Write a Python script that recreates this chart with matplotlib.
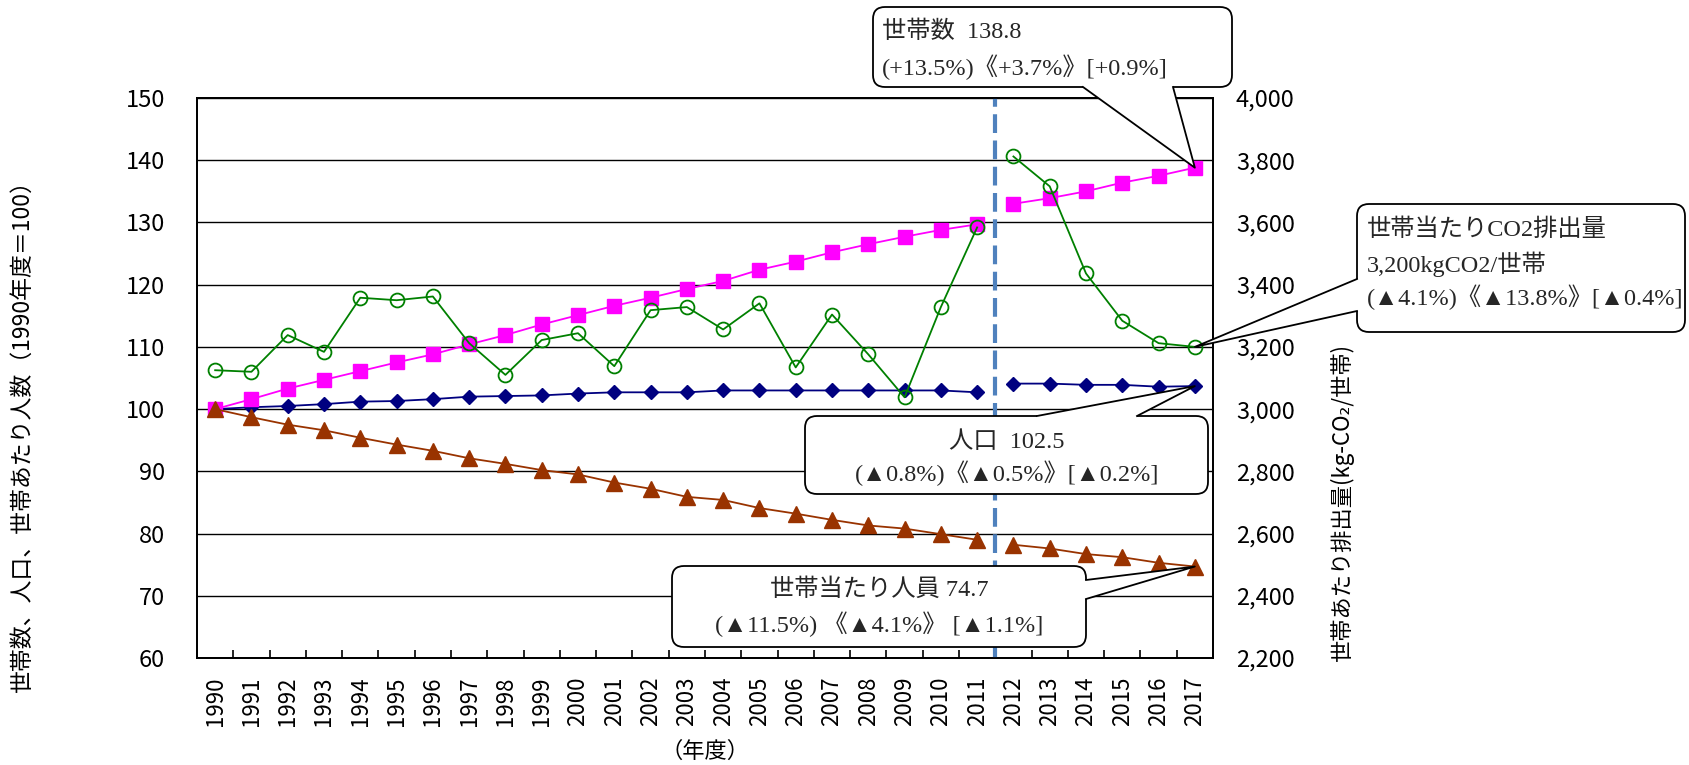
import matplotlib
matplotlib.use('Agg')
import matplotlib.pyplot as plt
from matplotlib.patches import FancyBboxPatch, Polygon
import numpy as np

# データ (1990年度=100)
years = [str(y) for y in range(1990, 2018)]
households = [100.0, 101.6, 103.3, 104.7, 106.1, 107.5, 108.8, 110.4, 111.9, 113.6,
              115.1, 116.6, 117.9, 119.3, 120.6, 122.4, 123.7, 125.2, 126.5, 127.7,
              128.8, 129.7, 133.0, 133.9, 135.0, 136.4, 137.5, 138.8]
population = [100.0, 100.3, 100.5, 100.8, 101.2, 101.3, 101.6, 102.0, 102.1, 102.2,
              102.5, 102.7, 102.7, 102.7, 103.0, 103.0, 103.0, 103.0, 103.0, 103.0,
              103.0, 102.7, 104.1, 104.1, 103.9, 103.9, 103.6, 103.7]
members = [100.0, 98.7, 97.5, 96.6, 95.4, 94.3, 93.3, 92.1, 91.2, 90.2,
           89.5, 88.2, 87.2, 85.9, 85.4, 84.1, 83.2, 82.2, 81.3, 80.8,
           79.9, 79.0, 78.2, 77.6, 76.7, 76.2, 75.3, 74.7]
# 世帯あたり排出量 (kg-CO2/世帯)
co2_per_household = [3125, 3120, 3238, 3184, 3358, 3350, 3362, 3212, 3110, 3222,
                     3244, 3138, 3318, 3328, 3256, 3340, 3134, 3304, 3176, 3038,
                     3328, 3584, 3812, 3716, 3436, 3284, 3212, 3200]

left_ticks = list(range(60, 151, 10))
right_ticks = list(range(2200, 4001, 200))

# 2011年度と2012年度の間で系列を切る
split = 22

plt.rcParams['font.family'] = ['Noto Sans CJK JP', 'DejaVu Sans']
SERIF = ['Liberation Serif', 'DejaVu Sans', 'Noto Sans CJK JP']
W, H = 1690, 765

fig = plt.figure(figsize=(W / 100, H / 100), dpi=100)
ax = fig.add_axes([197 / W, 1 - 658 / H, (1213 - 197) / W, (658 - 98) / H])
ax2 = ax.twinx()

x = np.arange(len(years))


def plot_split(a, values, **kw):
    v = np.array(values, dtype=float)
    a.plot(x[:split], v[:split], **kw)
    a.plot(x[split:], v[split:], **kw)


plot_split(ax, population, color='#000080', marker='D', ms=7, lw=1.3, zorder=2)
plot_split(ax, households, color='#FF00FF', marker='s', ms=10.5, lw=1.3, zorder=3)
plot_split(ax, members, color='#993300', marker='^', ms=11, lw=1.3, zorder=4)
plot_split(ax2, co2_per_household, color='#008000', marker='o', ms=10, mfc='none',
           mew=1.3, lw=1.3, zorder=3)

# 区切りの破線
ax2.axvline(split - 0.5, color='#4F81BD', lw=3, ls=(0, (4.5, 1.8)), zorder=1)

# 軸
ax.set_xlim(-0.5, len(years) - 0.5)
ax.set_ylim(60, 150)
ax.set_yticks(left_ticks)
ax2.set_ylim(2200, 4000)
ax2.set_yticks(right_ticks)
ax2.set_yticklabels(['{:,}'.format(v) for v in right_ticks])

ax.set_xticks(x)
ax.set_xticklabels(years, rotation=90, fontsize=16)
ax.set_xticks(np.arange(-0.5, len(years), 1.0), minor=True)
ax.tick_params(axis='x', which='major', length=0, pad=13.5)
ax.tick_params(axis='x', which='minor', direction='in', length=5.5, width=1.2)
ax.tick_params(axis='y', length=0, pad=23, labelsize=17)
ax2.tick_params(axis='y', length=0, pad=16.5, labelsize=17)

ax.yaxis.grid(True, color='black', lw=1.0)
ax.set_axisbelow(True)
for a in (ax, ax2):
    for s in a.spines.values():
        s.set_color('black')
        s.set_linewidth(1.3)

# 軸ラベル
fig.text(22 / W, 1 - 430 / H, '世帯数、人口、世帯あたり人数（1990年度＝100）',
         rotation=90, ha='center', va='center', fontsize=16.5)
fig.text(1342 / W, 1 - 502 / H, '世帯あたり排出量(kg-CO₂/世帯)',
         rotation=90, ha='center', va='center', fontsize=16)
fig.text(705 / W, 1 - 751 / H, '（年度）', ha='center', va='center', fontsize=16)

# 吹き出し用の重ね軸 (ピクセル座標)
ov = fig.add_axes([0, 0, 1, 1], zorder=10)
ov.set_xlim(0, W)
ov.set_ylim(H, 0)
ov.axis('off')


def to_px(a, xv, yv):
    return ov.transData.inverted().transform(a.transData.transform((xv, yv)))


def callout(box, side, b1, b2, tip, lines, ha='left'):
    x0, y0, x1, y1 = box
    ov.add_patch(FancyBboxPatch((x0, y0), x1 - x0, y1 - y0,
                                boxstyle='round,pad=0,rounding_size=12',
                                fc='white', ec='black', lw=1.3, zorder=1))
    if side == 'bottom':
        p1, p2, d = (b1, y1), (b2, y1), (0, -3)
    elif side == 'top':
        p1, p2, d = (b1, y0), (b2, y0), (0, 3)
    elif side == 'left':
        p1, p2, d = (x0, b1), (x0, b2), (3, 0)
    else:
        p1, p2, d = (x1, b1), (x1, b2), (-3, 0)
    pts = [(p1[0] + d[0], p1[1] + d[1]), p1, tuple(tip), p2,
           (p2[0] + d[0], p2[1] + d[1])]
    ov.add_patch(Polygon(pts, closed=True, fc='white', ec='none', zorder=2))
    ov.plot([p1[0], tip[0], p2[0]], [p1[1], tip[1], p2[1]], color='black',
            lw=1.3, zorder=3)
    for tx, ty, s in lines:
        ov.text(tx, ty, s, ha=ha, va='center', fontsize=17.5, family=SERIF,
                color='#262626', zorder=4)


last = len(years) - 1
callout((873, 7, 1232, 87), 'bottom', 1083, 1173,
        to_px(ax, last, households[last]),
        [(882, 32, '世帯数  138.8'),
         (882, 67, '(+13.5%)《+3.7%》[+0.9%]')])
callout((1357, 204, 1685, 332), 'left', 279, 311,
        to_px(ax2, last, co2_per_household[last]),
        [(1367, 230, '世帯当たりCO2排出量'),
         (1367, 264, '3,200kgCO2/世帯'),
         (1367, 297, '(▲4.1%)《▲13.8%》[▲0.4%]')])
callout((805, 416, 1208, 494), 'top', 1037, 1137,
        to_px(ax, last, population[last]),
        [(1007, 442, '人口  102.5'),
         (1007, 473, '(▲0.8%)《▲0.5%》[▲0.2%]')], ha='center')
callout((672, 566, 1086, 647), 'right', 580, 599,
        to_px(ax, last, members[last]),
        [(879, 590, '世帯当たり人員 74.7'),
         (879, 624, '(▲11.5%) 《▲4.1%》 [▲1.1%]')], ha='center')

fig.savefig('out.png', dpi=100)
